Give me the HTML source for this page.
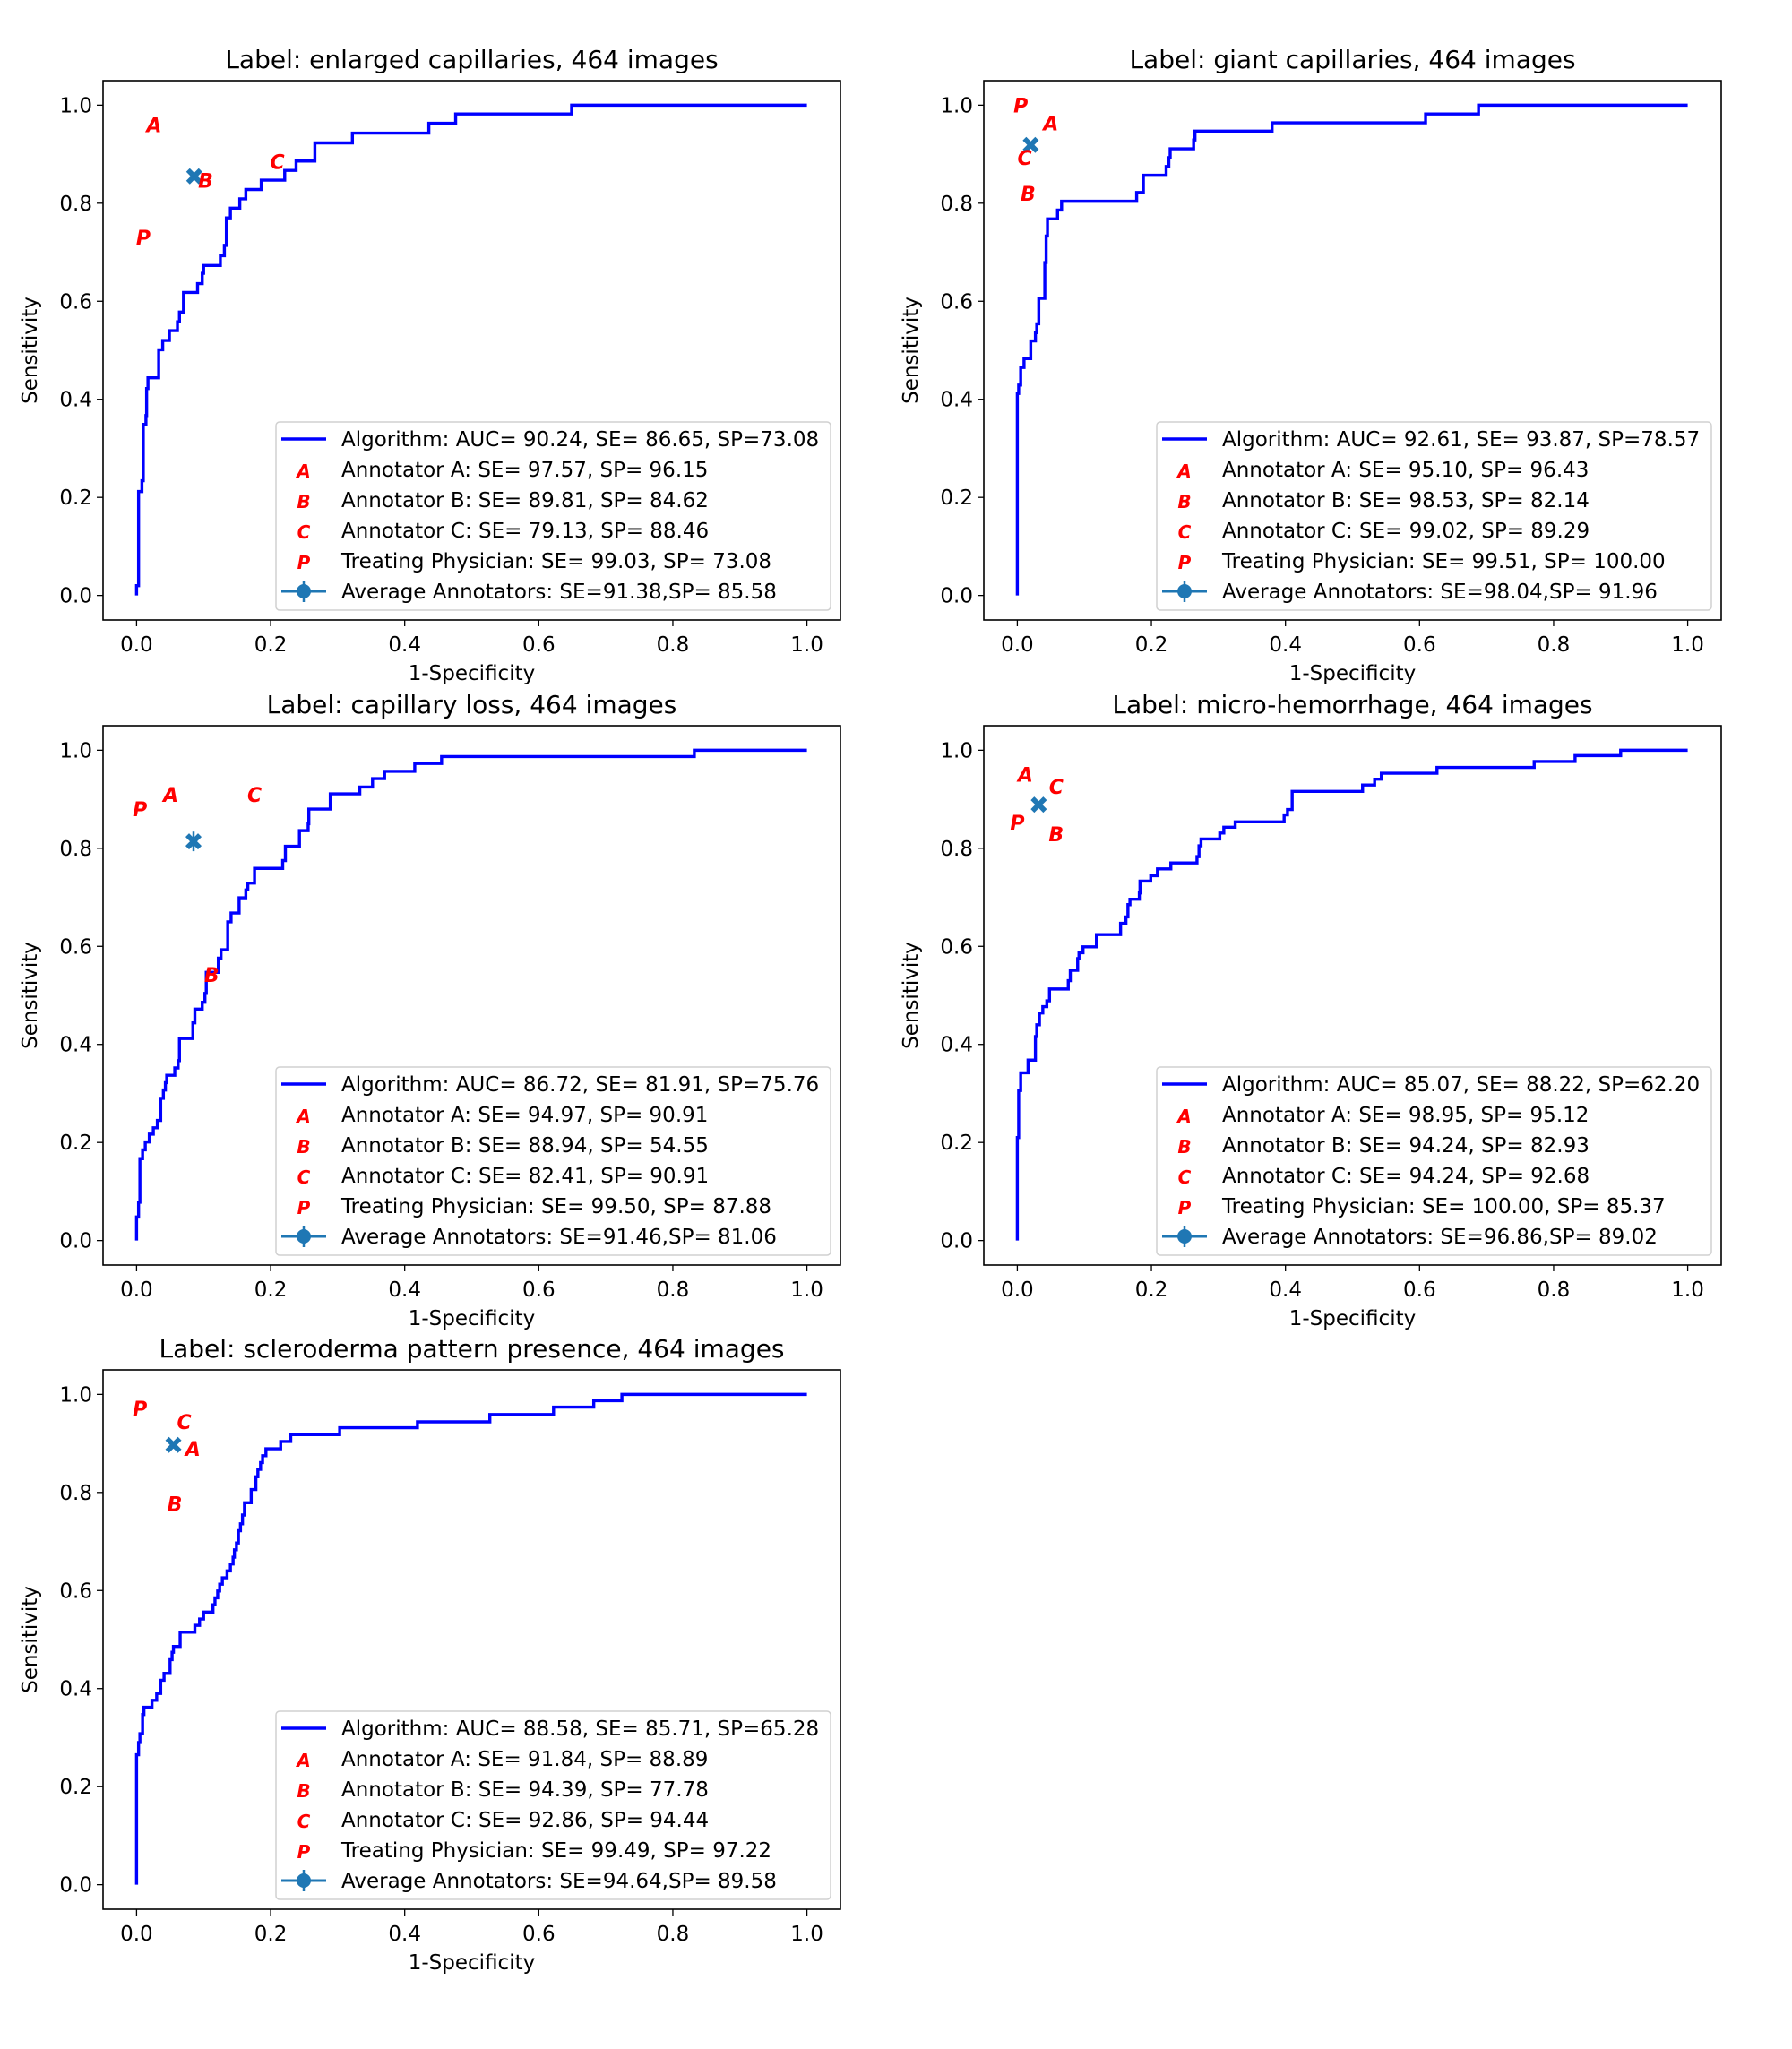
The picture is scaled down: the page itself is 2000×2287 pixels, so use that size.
<!DOCTYPE html>
<html><head><meta charset="utf-8">
<style>
html,body{margin:0;padding:0;background:#fff;}
svg{display:block;font-family:"DejaVu Sans","Liberation Sans",sans-serif;}
</style></head>
<body>
<svg id="fig" xmlns="http://www.w3.org/2000/svg" width="2000" height="2287" viewBox="0 0 2000 2287"></svg>
<script>
const xTicks = [0, 0.2, 0.4, 0.6, 0.8, 1.0];
const yTicks = [0, 0.2, 0.4, 0.6, 0.8, 1.0];
const tickLabels = ["0.0","0.2","0.4","0.6","0.8","1.0"];
const titles = ["Label: enlarged capillaries, 464 images","Label: giant capillaries, 464 images","Label: capillary loss, 464 images","Label: micro-hemorrhage, 464 images","Label: scleroderma pattern presence, 464 images"];
const fpr1 = [0,0,.003,.008,.010,.014,.015,.017,.033,.039,.049,.061,.064,.070,.091,.098,.100,.125,.131,.134,.140,.154,.163,.186,.221,.238,.266,.322,.436,.476,.649,1];
const tpr1 = [0,.020,.212,.234,.349,.367,.422,.444,.501,.520,.540,.558,.578,.618,.636,.657,.673,.693,.714,.770,.790,.809,.828,.847,.867,.886,.923,.943,.963,.982,1,1];
const fpr2 = [0,0,.002,.005,.010,.020,.027,.029,.032,.041,.043,.045,.060,.066,.178,.188,.222,.226,.228,.263,.265,.380,.609,.688,1];
const tpr2 = [0,.412,.429,.465,.483,.519,.536,.554,.606,.679,.733,.768,.786,.804,.822,.857,.875,.893,.911,.929,.947,.964,.982,1,1];
const fpr3 = [0,0,.003,.005,.009,.013,.019,.025,.031,.036,.040,.043,.045,.057,.062,.064,.084,.087,.098,.102,.104,.122,.126,.136,.141,.153,.163,.166,.176,.218,.222,.243,.256,.257,.289,.333,.352,.370,.415,.455,.832,1];
const tpr3 = [0,.048,.078,.167,.185,.201,.217,.230,.245,.290,.307,.322,.337,.352,.367,.412,.444,.472,.486,.504,.547,.576,.593,.650,.668,.699,.715,.729,.759,.775,.804,.836,.850,.880,.911,.925,.942,.957,.973,.987,1,1];
const fpr4 = [0,0,.002,.005,.016,.027,.029,.033,.038,.044,.048,.076,.079,.090,.092,.098,.118,.154,.162,.165,.168,.182,.183,.199,.209,.229,.268,.271,.274,.302,.308,.325,.398,.403,.410,.515,.533,.543,.626,.771,.832,.900,1];
const tpr4 = [0,.210,.306,.342,.368,.416,.440,.464,.477,.489,.513,.530,.551,.575,.587,.599,.624,.647,.660,.685,.696,.709,.733,.744,.758,.770,.783,.805,.819,.831,.843,.854,.868,.879,.916,.929,.941,.953,.965,.977,.989,1,1];
const fpr5 = [0,0,.003,.005,.009,.011,.023,.030,.036,.041,.050,.053,.055,.065,.087,.094,.100,.114,.117,.121,.124,.128,.135,.140,.144,.146,.149,.152,.155,.158,.161,.171,.178,.181,.185,.188,.193,.215,.230,.303,.419,.527,.622,.682,.724,1];
const tpr5 = [0,.265,.290,.308,.347,.362,.376,.390,.417,.431,.459,.474,.486,.515,.529,.542,.556,.571,.585,.599,.613,.626,.640,.654,.668,.683,.697,.722,.736,.754,.779,.806,.832,.847,.861,.875,.889,.904,.918,.932,.944,.959,.974,.987,1,1];
// annotator points: [A, B, C, P, Avg]
const markX1 = [.026,.103,.210,.010,.086], markY1 = [.960,.846,.885,.730,.855];
const markX2 = [.050,.016,.011,.005,.020], markY2 = [.963,.820,.893,1.0,.919];
const markX3 = [.051,.112,.176,.005,.085], markY3 = [.909,.542,.909,.880,.814];
const markX4 = [.012,.058,.058,.000,.032], markY4 = [.950,.829,.926,.853,.889];
const markX5 = [.084,.057,.071,.005,.055], markY5 = [.889,.777,.944,.971,.897];
const avgErr = [0.008,0.006,0.02,0.006,0.006];
const legend1 = ["Algorithm: AUC= 90.24, SE= 86.65, SP=73.08","Annotator A: SE= 97.57, SP= 96.15","Annotator B: SE= 89.81, SP= 84.62","Annotator C: SE= 79.13, SP= 88.46","Treating Physician: SE= 99.03, SP= 73.08","Average Annotators: SE=91.38,SP= 85.58"];
const legend2 = ["Algorithm: AUC= 92.61, SE= 93.87, SP=78.57","Annotator A: SE= 95.10, SP= 96.43","Annotator B: SE= 98.53, SP= 82.14","Annotator C: SE= 99.02, SP= 89.29","Treating Physician: SE= 99.51, SP= 100.00","Average Annotators: SE=98.04,SP= 91.96"];
const legend3 = ["Algorithm: AUC= 86.72, SE= 81.91, SP=75.76","Annotator A: SE= 94.97, SP= 90.91","Annotator B: SE= 88.94, SP= 54.55","Annotator C: SE= 82.41, SP= 90.91","Treating Physician: SE= 99.50, SP= 87.88","Average Annotators: SE=91.46,SP= 81.06"];
const legend4 = ["Algorithm: AUC= 85.07, SE= 88.22, SP=62.20","Annotator A: SE= 98.95, SP= 95.12","Annotator B: SE= 94.24, SP= 82.93","Annotator C: SE= 94.24, SP= 92.68","Treating Physician: SE= 100.00, SP= 85.37","Average Annotators: SE=96.86,SP= 89.02"];
const legend5 = ["Algorithm: AUC= 88.58, SE= 85.71, SP=65.28","Annotator A: SE= 91.84, SP= 88.89","Annotator B: SE= 94.39, SP= 77.78","Annotator C: SE= 92.86, SP= 94.44","Treating Physician: SE= 99.49, SP= 97.22","Average Annotators: SE=94.64,SP= 89.58"];
const letters = ["A","B","C","P"];

const NS = "http://www.w3.org/2000/svg";
const svg = document.getElementById('fig');
function mk(tag, attrs, parent){
  const e = document.createElementNS(NS, tag);
  for (const k in attrs) e.setAttribute(k, attrs[k]);
  (parent||svg).appendChild(e);
  return e;
}
const panels = [
  {fx:fpr1, ty:tpr1, mx:markX1, my:markY1, leg:legend1, col:0, row:0},
  {fx:fpr2, ty:tpr2, mx:markX2, my:markY2, leg:legend2, col:1, row:0},
  {fx:fpr3, ty:tpr3, mx:markX3, my:markY3, leg:legend3, col:0, row:1},
  {fx:fpr4, ty:tpr4, mx:markX4, my:markY4, leg:legend4, col:1, row:1},
  {fx:fpr5, ty:tpr5, mx:markX5, my:markY5, leg:legend5, col:0, row:2}
];
const colLeft = [115, 1098], rowTop = [90, 810, 1529];
const BW = 823, BH = 602;
panels.forEach((p, i) => {
  const L = colLeft[p.col], T = rowTop[p.row];
  const xs = v => L + (v + 0.05) / 1.1 * BW;
  const ys = v => T + BH - (v + 0.05) / 1.1 * BH;
  const g = mk('g', {});
  
  
  const title = mk('text', {x: L + BW/2, y: T - 14, 'font-size': 28, 'text-anchor': 'middle', fill: '#000'}, g);
  title.textContent = titles[i];
  
  
  xTicks.forEach((t, k) => {
    const tk = mk('line', {x1: xs(t), x2: xs(t), y1: T+BH, y2: T+BH+7, stroke: '#000', 'stroke-width': 1.3}, g);
    
    
    const tl = mk('text', {x: xs(t), y: T+BH+35, 'font-size': 23, 'text-anchor': 'middle'}, g);
    tl.textContent = tickLabels[k];
    
    
  });
  yTicks.forEach((t, k) => {
    const tk = mk('line', {x1: L-7, x2: L, y1: ys(t), y2: ys(t), stroke: '#000', 'stroke-width': 1.3}, g);
    
    
    const tl = mk('text', {x: L-12, y: ys(t)+8, 'font-size': 23, 'text-anchor': 'end'}, g);
    tl.textContent = tickLabels[k];
    
    
  });
  const xl = mk('text', {x: L + BW/2, y: T+BH+67, 'font-size': 23, 'text-anchor': 'middle'}, g);
  xl.textContent = '1-Specificity';
  
  
  const ylx = L - 74, yly = T + BH/2;
  const yl = mk('text', {x: ylx, y: yly, 'font-size': 23, 'text-anchor': 'middle', transform: `rotate(-90 ${ylx} ${yly})`}, g);
  yl.textContent = 'Sensitivity';
  
  
  let d = `M${xs(p.fx[0])},${ys(p.ty[0])}`;
  for (let k = 1; k < p.fx.length; k++) {
    d += ` L${xs(p.fx[k])},${ys(p.ty[k-1])} L${xs(p.fx[k])},${ys(p.ty[k])}`;
  }
  const path = mk('path', {d: d, fill: 'none', stroke: '#0000ff', 'stroke-width': 3.4, 'stroke-linejoin': 'miter'}, g);
  
  
  const ax = xs(p.mx[4]), ay = ys(p.my[4]);
  const eb = mk('line', {x1: ax, x2: ax, y1: ys(p.my[4]+avgErr[i]), y2: ys(p.my[4]-avgErr[i]), stroke: '#1f77b4', 'stroke-width': 2.5}, g);
  
  
  const s = 9, w = 4;
  const xd = `M${ax-s},${ay-s+w} L${ax-s+w},${ay-s} L${ax},${ay-w} L${ax+s-w},${ay-s} L${ax+s},${ay-s+w} L${ax+w},${ay} L${ax+s},${ay+s-w} L${ax+s-w},${ay+s} L${ax},${ay+w} L${ax-s+w},${ay+s} L${ax-s},${ay+s-w} L${ax-w},${ay} Z`;
  const am = mk('path', {d: xd, fill: '#1f77b4'}, g);
  
  
  letters.forEach((lt, k) => {
    const t = mk('text', {x: xs(p.mx[k]), y: ys(p.my[k]) + 8, 'font-size': 22, 'font-weight': 'bold', 'font-style': 'italic', fill: '#ff0000', 'text-anchor': 'middle'}, g);
    t.textContent = lt;
    
    
  });
  const fr = mk('rect', {x: L, y: T, width: BW, height: BH, fill: 'none', stroke: '#000', 'stroke-width': 1.6}, g);
  
  
  const LL = L + 193, LT = T + BH - 221, LW = 619, LH = 210;
  const lg = mk('g', {}, g);
  
  
  mk('rect', {x: LL, y: LT, width: LW, height: LH, rx: 4, fill: '#fff', 'fill-opacity': 0.8, stroke: '#d0d0d0', 'stroke-width': 1.5}, lg);
  p.leg.forEach((txt, k) => {
    const cy = LT + 19 + k * 34;
    const hx = LL + 31;
    if (k === 0) {
      mk('line', {x1: LL+6, x2: LL+56, y1: cy, y2: cy, stroke: '#0000ff', 'stroke-width': 3.4}, lg);
    } else if (k === 5) {
      mk('line', {x1: LL+6, x2: LL+56, y1: cy, y2: cy, stroke: '#1f77b4', 'stroke-width': 3}, lg);
      mk('line', {x1: hx, x2: hx, y1: cy-12, y2: cy+12, stroke: '#1f77b4', 'stroke-width': 2.5}, lg);
      mk('circle', {cx: hx, cy: cy, r: 8, fill: '#1f77b4'}, lg);
    } else {
      const m = mk('text', {x: hx, y: cy + 9, 'font-size': 20, 'font-weight': 'bold', 'font-style': 'italic', fill: '#ff0000', 'text-anchor': 'middle'}, lg);
      m.textContent = letters[k-1];
    }
    const t = mk('text', {x: LL + 73, y: cy + 8, 'font-size': 23}, lg);
    t.textContent = txt;
    
    
  });
});
</script>
</body></html>
